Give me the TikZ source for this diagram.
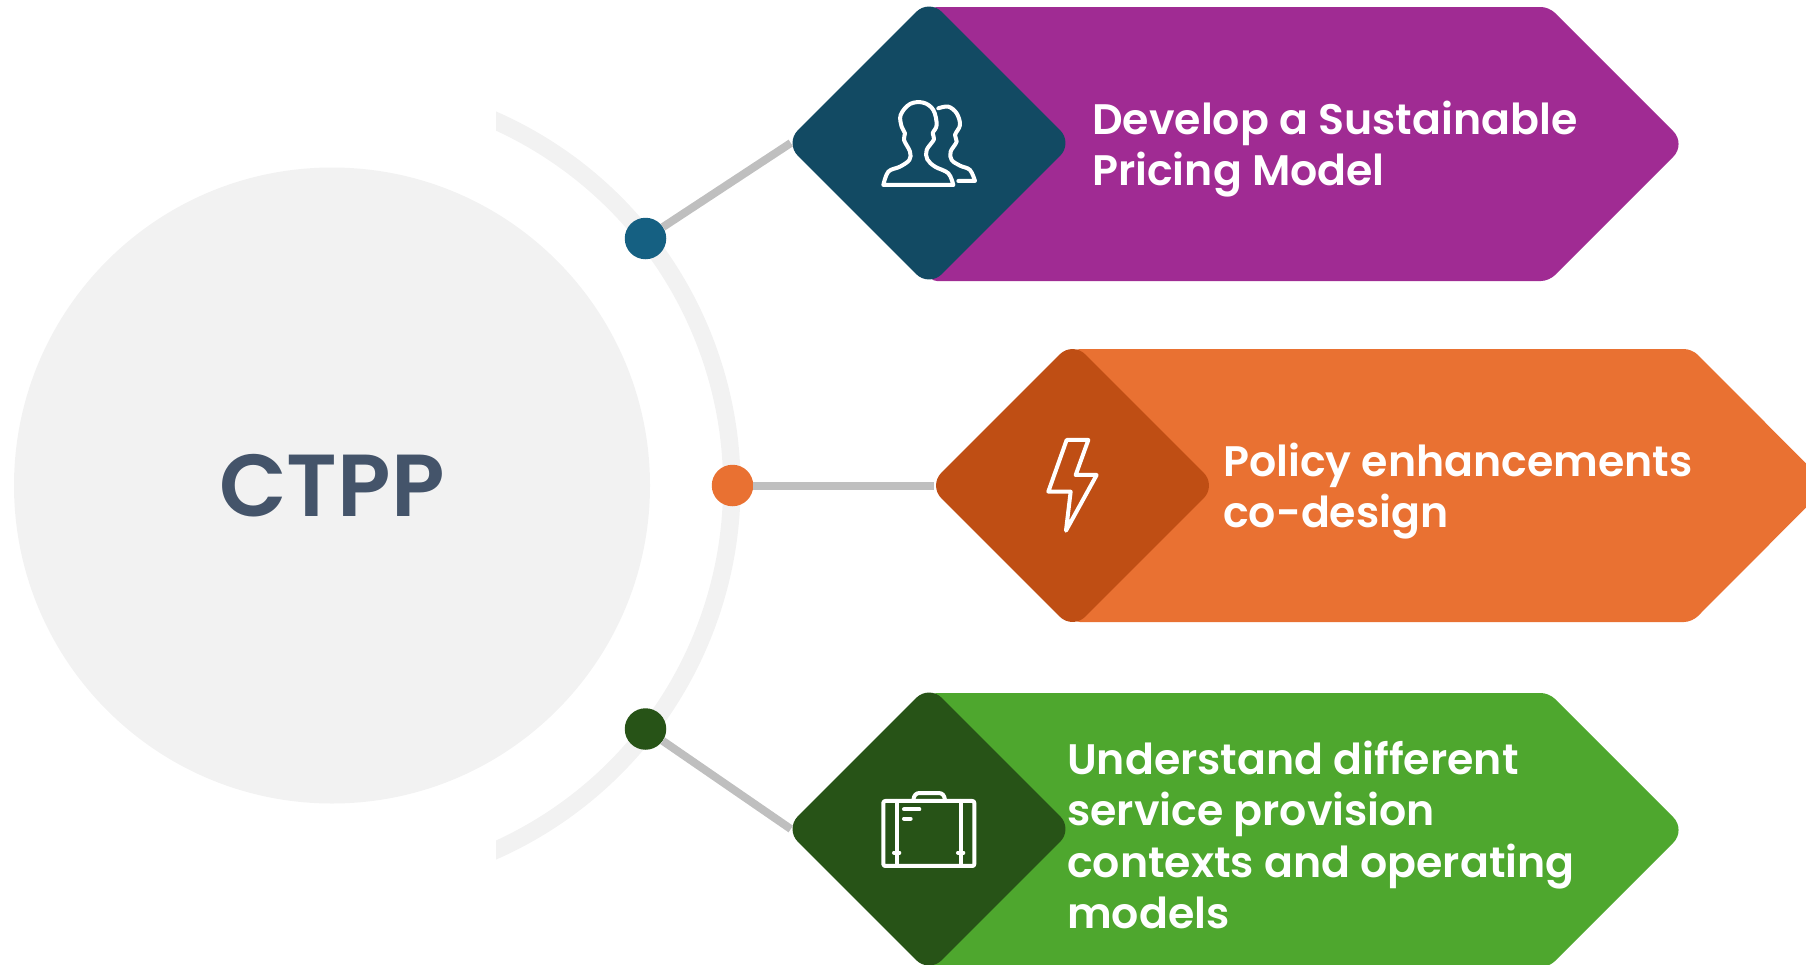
\documentclass[tikz,border=0pt]{standalone}
\usepackage{fontspec}
\usepackage{xcolor}
\usepackage{tikz}
\usetikzlibrary{shapes.geometric}
\newfontfamily\popfont{Poppins SemiBold}

\definecolor{ringgray}{HTML}{F2F2F2}
\definecolor{linegray}{HTML}{BFBFBF}
\definecolor{titleblue}{HTML}{44546A}
\definecolor{teal}{HTML}{156082}
\definecolor{darkteal}{HTML}{124A63}
\definecolor{plum}{HTML}{A02B93}
\definecolor{orange}{HTML}{E97132}
\definecolor{darkorange}{HTML}{BF4E14}
\definecolor{leaf}{HTML}{4EA72E}
\definecolor{darkleaf}{HTML}{275317}

\begin{document}
\begin{tikzpicture}[x=1pt,y=-1pt,
            hub node/.style={circle,fill=ringgray,minimum size=636pt,inner sep=0pt,
                font=\popfont\fontsize{88}{90}\selectfont,text=titleblue},
            dot node/.style={circle,inner sep=0pt,minimum size=41.5pt},
            tip node/.style={diamond,inner sep=0pt,minimum size=288pt,rounded corners=18pt},
            band corner/.style={rounded corners=8pt},
            band tip/.style={rounded corners=18pt},
            label node/.style={anchor=west,align=left,text=white,inner sep=0pt,
                font=\popfont\fontsize{42.67}{51.5}\selectfont},
            icon/.style={draw=white,line width=4pt,line join=round,line cap=round},
            link/.style={draw=linegray,line width=8pt}]

        \useasboundingbox (0,0) rectangle (1806,964);

        \fill[plum] (929,7) [band corner] -- (1549,7) [band tip] -- (1686,144) [band corner] -- (1549,281) -- (929,281) -- cycle;
        \fill[orange] (1072,349) [band corner] -- (1692,349) [band tip] -- (1828,485.5) [band corner] -- (1692,622) -- (1072,622) -- cycle;
        \fill[leaf] (929,693) [band corner] -- (1549,693) [band tip] -- (1686,830) [band corner] -- (1549,967) -- (929,967) -- cycle;

        \node[tip node,fill=darkteal] (tip1) at (929,143) {};
        \node[tip node,fill=darkorange] (tip2) at (1072.5,485.5) {};
        \node[tip node,fill=darkleaf] (tip3) at (929,829) {};

        % ring, cut off on the left
        \fill[ringgray] (496,111.4) arc[start angle=66.33,end angle=-66.33,radius=408.5pt]
            -- (496,840.5) arc[start angle=-65.2,end angle=65.2,radius=391pt] -- cycle;
        \node[hub node] (hub) at (332,485.5) {CTPP};

        \node[dot node,fill=teal] (dot1) at (645.5,238.5) {};
        \node[dot node,fill=orange] (dot2) at (732.5,485.5) {};
        \node[dot node,fill=darkleaf] (dot3) at (645.5,729) {};

        \path[link]
        (dot1) edge ([xshift=6pt]tip1.west)
        (dot2) edge ([xshift=6pt]tip2.west)
        (dot3) edge ([xshift=6pt]tip3.west);

        \node[label node] (text1) at (1092,149) {Develop a Sustainable\\Pricing Model};
        \node[label node] (text2) at (1223,491) {Policy enhancements\\co-design};
        \node[label node] (text3) at (1067,835) {Understand different\\service provision\\contexts and operating\\models};

        % people
        \begin{scope}[xshift=780pt,x=.3333pt,y=-.3333pt,icon]
            \draw plot[smooth,tension=.6] coordinates {(520,555) (505,520) (465,500) (442,478) (440,450) (462,418) (458,400) (470,375) (460,330) (430,308) (390,312) (362,345) (365,380) (375,400) (372,420) (390,455) (388,480) (360,500) (325,515) (310,555)} -- cycle;
            \draw plot[smooth,tension=.6] coordinates {(475,325) (505,320) (530,340) (540,375) (525,405) (530,425) (512,455) (515,480) (540,497) (570,510) (585,543)} -- (535,543);
        \end{scope}

        % bolt
        \begin{scope}[xshift=920pt,yshift=-340pt,x=.3333pt,y=-.3333pt,icon]
            \draw (440,300) -- (505,300) -- (467,405) -- (530,405) -- (438,572) -- (452,455) -- (385,455) -- cycle;
        \end{scope}

        % suitcase
        \begin{scope}[xshift=780pt,yshift=-680pt,x=.3333pt,y=-.3333pt,icon]
            \draw[rounded corners=2pt] (310,363) rectangle (583,558);
            \draw (400,360) .. controls (402,345) and (408,339) .. (420,339) -- (475,339) .. controls (487,339) and (493,345) .. (495,360);
            \draw (350,363) -- (350,558) (542,363) -- (542,558);
            \draw (342,518) -- (358,518) (534,518) -- (550,518);
            \draw (372,388) -- (418,388) (372,416) -- (392,416);
        \end{scope}
    \end{tikzpicture}
\end{document}
